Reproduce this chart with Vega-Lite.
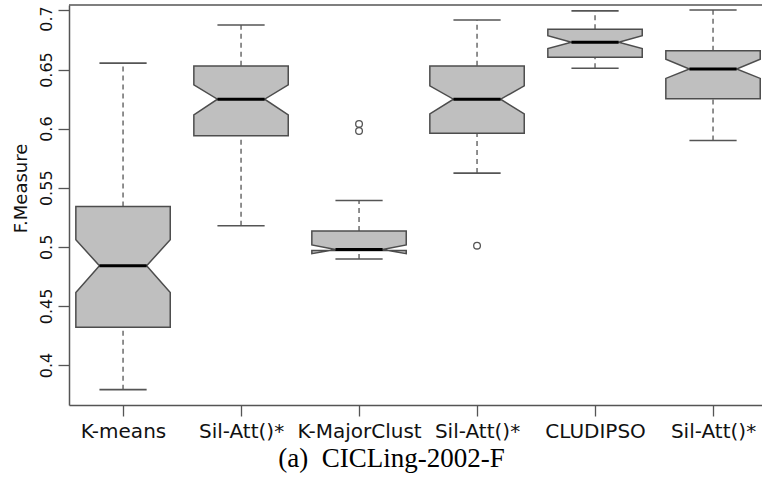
{
  "$schema": "https://vega.github.io/schema/vega-lite/v6.json",
  "width": 693,
  "height": 400,
  "autosize": {"type": "none"},
  "padding": {"left": 69, "top": 5, "right": 0, "bottom": 82},
  "background": "white",
  "config": {"view": {"stroke": null}, "axis": {"grid": false}},
  "title": {
    "text": "(a)\u00a0\u00a0CICLing-2002-F",
    "orient": "bottom",
    "font": "Liberation Serif",
    "fontSize": 27,
    "fontWeight": "normal",
    "color": "#000000",
    "anchor": "middle",
    "dx": -24,
    "offset": 5
  },
  "datasets": {
    "boxes": [
      {"method": "K-means", "group": 1, "lo": 0.3792, "q1": 0.4319, "nl": 0.4614, "med": 0.4840, "nh": 0.5060, "q3": 0.5341, "hi": 0.6554},
      {"method": "Sil-Att()*", "group": 2, "lo": 0.5178, "q1": 0.5939, "nl": 0.6117, "med": 0.6249, "nh": 0.6370, "q3": 0.6531, "hi": 0.6877},
      {"method": "K-MajorClust", "group": 3, "lo": 0.4897, "q1": 0.4970, "nl": 0.4942, "med": 0.4978, "nh": 0.5016, "q3": 0.5134, "hi": 0.5392},
      {"method": "Sil-Att()*", "group": 4, "lo": 0.5624, "q1": 0.5961, "nl": 0.6125, "med": 0.6249, "nh": 0.6362, "q3": 0.6531, "hi": 0.6919},
      {"method": "CLUDIPSO", "group": 5, "lo": 0.6511, "q1": 0.6604, "nl": 0.6678, "med": 0.6731, "nh": 0.6786, "q3": 0.6841, "hi": 0.6996},
      {"method": "Sil-Att()*", "group": 6, "lo": 0.5900, "q1": 0.6252, "nl": 0.6425, "med": 0.6505, "nh": 0.6588, "q3": 0.6660, "hi": 0.7004}
    ],
    "outliers": [
      {"group": 3, "value": 0.6040},
      {"group": 3, "value": 0.5980},
      {"group": 4, "value": 0.5010}
    ]
  },
  "data": {"name": "boxes"},
  "transform": [
    {"calculate": "datum.group - 0.2", "as": "cl"},
    {"calculate": "datum.group + 0.2", "as": "cr"}
  ],
  "layer": [
    {
      "data": {"values": [{}]},
      "mark": {"type": "rule", "color": "#555555", "strokeWidth": 1.5},
      "encoding": {"y": {"datum": 0.7046, "type": "quantitative"}}
    },
    {
      "mark": {"type": "rule", "color": "#555555", "strokeWidth": 1.3, "strokeDash": [5, 4]},
      "encoding": {
        "x": {"field": "group", "type": "quantitative"},
        "y": {"field": "q3", "type": "quantitative"},
        "y2": {"field": "hi"}
      }
    },
    {
      "mark": {"type": "rule", "color": "#555555", "strokeWidth": 1.3, "strokeDash": [5, 4]},
      "encoding": {
        "x": {"field": "group", "type": "quantitative"},
        "y": {"field": "lo", "type": "quantitative"},
        "y2": {"field": "q1"}
      }
    },
    {
      "mark": {"type": "rule", "color": "#555555", "strokeWidth": 1.6},
      "encoding": {
        "x": {"field": "cl", "type": "quantitative"},
        "x2": {"field": "cr"},
        "y": {"field": "hi", "type": "quantitative"}
      }
    },
    {
      "mark": {"type": "rule", "color": "#555555", "strokeWidth": 1.6},
      "encoding": {
        "x": {"field": "cl", "type": "quantitative"},
        "x2": {"field": "cr"},
        "y": {"field": "lo", "type": "quantitative"}
      }
    },
    {
      "transform": [
        {"fold": ["q1", "nl", "med", "nh", "q3"], "as": ["stat", "v"]},
        {"calculate": "datum.stat === 'med' ? 0.2 : 0.4", "as": "hw"},
        {"calculate": "datum.group - datum.hw", "as": "xa"},
        {"calculate": "datum.group + datum.hw", "as": "xb"}
      ],
      "mark": {"type": "area", "orient": "horizontal", "fill": "#bfbfbf", "fillOpacity": 1, "stroke": "#4d4d4d", "strokeWidth": 1.5},
      "encoding": {
        "x": {
          "field": "xa",
          "type": "quantitative",
          "scale": {"domain": [0.542, 6.415], "nice": false, "zero": false},
          "axis": {
            "orient": "bottom",
            "title": null,
            "values": [1, 2, 3, 4, 5, 6],
            "labelExpr": "['K-means','Sil-Att()*','K-MajorClust','Sil-Att()*','CLUDIPSO','Sil-Att()*'][round(datum.value) - 1]",
            "labelFont": "DejaVu Sans",
            "labelFontSize": 20,
            "labelColor": "#111111",
            "labelPadding": 5,
            "tickSize": 11,
            "tickColor": "#555555",
            "tickWidth": 1.3,
            "domainColor": "#555555",
            "domainWidth": 1.5,
            "labelOverlap": false,
            "labelFlush": false
          }
        },
        "x2": {"field": "xb"},
        "y": {
          "field": "v",
          "type": "quantitative",
          "scale": {"domain": [0.3662, 0.7046], "nice": false, "zero": false},
          "axis": {
            "title": "F.Measure",
            "titleFont": "DejaVu Sans",
            "titleFontSize": 18,
            "titleFontWeight": "normal",
            "titleColor": "#111111",
            "titleY": 183,
            "titlePadding": 8,
            "values": [0.4, 0.45, 0.5, 0.55, 0.6, 0.65, 0.7],
            "format": "~g",
            "labelAngle": 270,
            "labelAlign": "center",
            "labelBaseline": "bottom",
            "labelOffset": {"condition": {"test": "datum.value > 0.69", "value": 8}, "value": 0},
            "labelFont": "DejaVu Sans",
            "labelFontSize": 16,
            "labelColor": "#111111",
            "labelPadding": 4,
            "tickSize": 11,
            "tickColor": "#555555",
            "tickWidth": 1.3,
            "domainColor": "#555555",
            "domainWidth": 1.5,
            "labelOverlap": false,
            "labelFlush": false
          }
        },
        "detail": {"field": "group"},
        "order": {"value": null}
      }
    },
    {
      "mark": {"type": "rule", "color": "#000000", "strokeWidth": 3},
      "encoding": {
        "x": {"field": "cl", "type": "quantitative"},
        "x2": {"field": "cr"},
        "y": {"field": "med", "type": "quantitative"}
      }
    },
    {
      "data": {"name": "outliers"},
      "mark": {"type": "point", "shape": "circle", "filled": false, "size": 45, "stroke": "#555555", "strokeWidth": 1.3, "opacity": 1},
      "encoding": {
        "x": {"field": "group", "type": "quantitative"},
        "y": {"field": "value", "type": "quantitative"}
      }
    }
  ]
}
